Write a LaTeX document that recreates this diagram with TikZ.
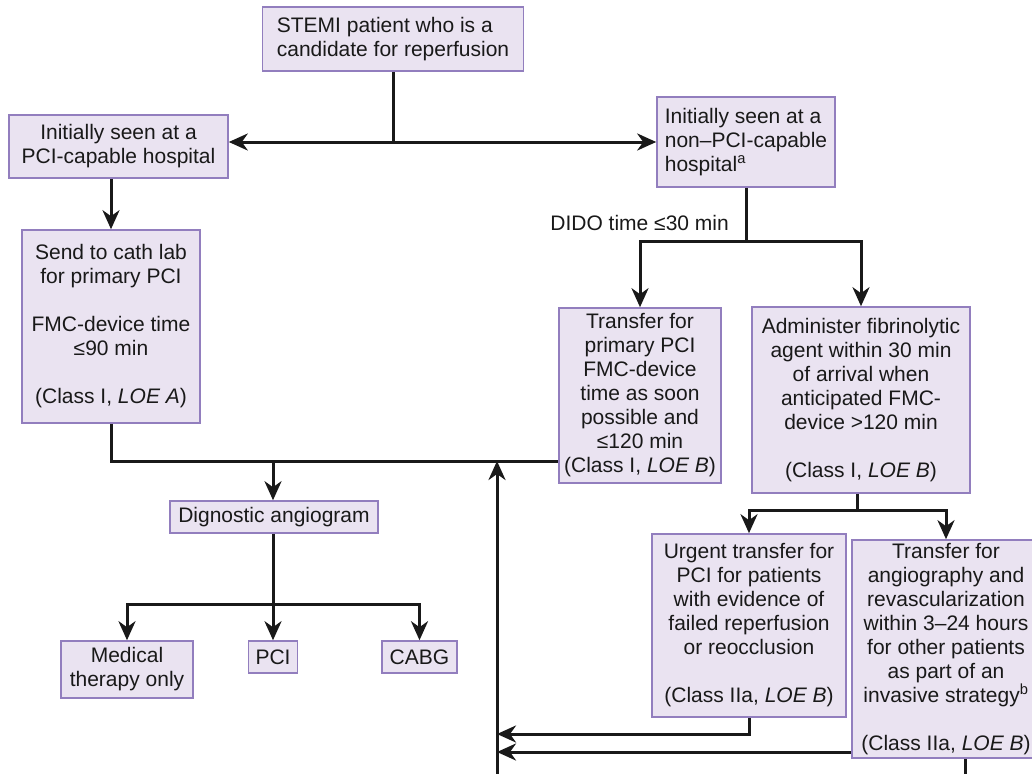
\documentclass[tikz,border=0pt]{standalone}
\usepackage{fontspec}
\setmainfont{Liberation Sans}
\usetikzlibrary{arrows.meta}
\definecolor{boxfill}{RGB}{234,227,241}
\definecolor{boxedge}{RGB}{146,126,190}
\definecolor{linkcol}{RGB}{25,25,25}
\newcommand{\boxfont}{\fontsize{21}{24}\selectfont}
\tikzset{box/.style={draw=boxedge, fill=boxfill, line width=1.6pt, inner sep=0pt, align=center, font=\boxfont, text=linkcol},
  link/.style={draw=linkcol, line width=3pt},
  arrow/.style={link, -{Stealth[length=19pt,width=17pt,inset=6pt]}}}

\begin{document}
\begin{tikzpicture}[x=1pt,y=-1pt]
  \useasboundingbox[fill=white] (0,0) rectangle (1032,773);
  % boxes
  \node[box, align=left, minimum width=261pt, minimum height=64pt] (stemi) at (393,39) {STEMI patient who is a\\candidate for reperfusion};
  \node[box, minimum width=219pt, minimum height=63pt] (pcicap) at (118.5,146.5) {Initially seen at a\\PCI-capable hospital};
  \node[box, align=left, minimum width=178pt, minimum height=90pt] (nonpci) at (746,142) {Initially seen at a\\non--PCI-capable\\hospital\textsuperscript{a}};
  \node[box, minimum width=178pt, minimum height=193pt] (cathlab) at (111,326.5) {Send to cath lab\\for primary PCI\\[24pt]FMC-device time\\≤90 min\\[24pt](Class I, \textit{LOE A})};
  \node[box, minimum width=162pt, minimum height=175pt] (xferpci) at (640,395.5) {Transfer for\\primary PCI\\FMC-device\\time as soon\\possible and\\≤120 min\\(Class I, \textit{LOE B})};
  \node[box, minimum width=218pt, minimum height=186pt] (lytic) at (861,400) {Administer fibrinolytic\\agent within 30 min\\of arrival when\\anticipated FMC-\\device >120 min\\[24pt](Class I, \textit{LOE B})};
  \node[box, minimum width=208pt, minimum height=32pt] (angio) at (274,517) {Dignostic angiogram};
  \node[box, minimum width=132pt, minimum height=57pt] (medical) at (127,669.5) {Medical\\therapy only};
  \node[box, minimum width=49pt, minimum height=32pt] (pci) at (273,657) {PCI};
  \node[box, minimum width=75pt, minimum height=32pt] (cabg) at (419.5,657) {CABG};
  \node[box, minimum width=194pt, minimum height=183pt] (urgent) at (749,625.5) {Urgent transfer for\\PCI for patients\\with evidence of\\failed reperfusion\\or reocclusion\\[24pt](Class IIa, \textit{LOE B})};
  \node[box, minimum width=188pt, minimum height=218pt] (invasive) at (946,649) {Transfer for\\angiography and\\revascularization\\within 3--24 hours\\for other patients\\as part of an\\invasive strategy\textsuperscript{b}\\[24pt](Class IIa, \textit{LOE B})};
  \node[font=\boxfont, text=linkcol, anchor=east, inner sep=0pt] (dido) at (729,223) {DIDO time ≤30 min};

  % branch points
  \coordinate (fork) at (393,142);
  \coordinate (didofork) at (746,241);
  \coordinate (merge) at (273,461);
  \coordinate (angiofork) at (273,604);
  \coordinate (lyticfork) at (857,510);
  \coordinate (back1) at (497,734);
  \coordinate (back2) at (497,752);
  \coordinate (loopend) at (965,776);
  \coordinate (loopcorner) at (497,776);

  % connectors
  \draw[link] (stemi) -- (fork);
  \draw[arrow] (fork) -- (pcicap.east |- fork);
  \draw[arrow] (fork) -- (nonpci);
  \draw[arrow] (pcicap.south -| cathlab) -- (cathlab);
  \draw[link] (nonpci) -- (didofork);
  \draw[arrow] (didofork) -| (xferpci);
  \draw[arrow] (didofork) -| (lytic);
  \draw[link] (cathlab) |- (merge) -- (xferpci.west |- merge);
  \draw[arrow] (merge) -- (angio.north -| merge);
  \draw[link] (angio.south -| angiofork) -- (angiofork);
  \draw[arrow] (angiofork) -| (medical);
  \draw[arrow] (angiofork) -- (pci);
  \draw[arrow] (angiofork) -| (cabg);
  \draw[link] (lytic.south -| lyticfork) -- (lyticfork);
  \draw[arrow] (lyticfork) -| (urgent);
  \draw[arrow] (lyticfork) -| (invasive);
  \draw[arrow] (urgent) |- (back1);
  \draw[arrow] (invasive.west |- back2) -- (back2);
  \draw[arrow] (invasive.south -| loopend) -- (loopend) -- (loopcorner) -- (merge -| loopcorner);
\end{tikzpicture}
\end{document}
